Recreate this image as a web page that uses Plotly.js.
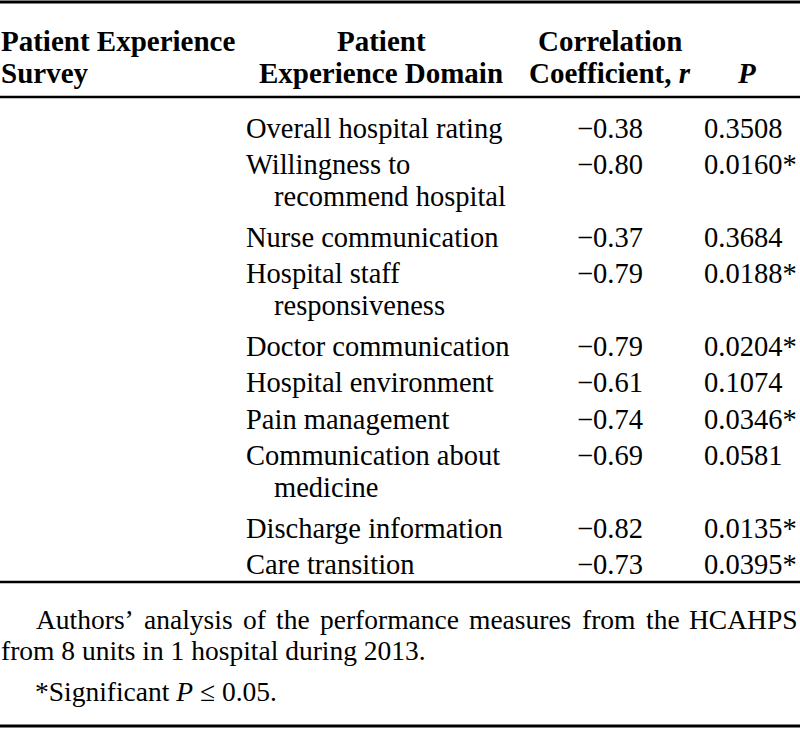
<!DOCTYPE html>
<html>
<head>
<meta charset="utf-8">
<script src="https://cdn.plot.ly/plotly-3.0.1.min.js"></script>
<style>html,body{margin:0;padding:0;background:#fff;}#chart{width:800px;height:729px;}</style>
</head>
<body>
<div id="chart"></div>
<script>
// ---- data ----
const headerLine1 = ["Patient Experience", "Patient", "Correlation", ""];
const headerLine2 = ["Survey", "Experience Domain", "Coefficient, <i>r</i>", "<i>P</i>"];
const domainLine1 = ["Overall hospital rating", "Willingness to", "Nurse communication", "Hospital staff",
  "Doctor communication", "Hospital environment", "Pain management", "Communication about",
  "Discharge information", "Care transition"];
const domainLine2 = ["", "recommend hospital", "", "responsiveness", "", "", "", "medicine", "", ""];
const rValues = [-0.38, -0.80, -0.37, -0.79, -0.79, -0.61, -0.74, -0.69, -0.82, -0.73];
const pValues = [0.3508, 0.0160, 0.3684, 0.0188, 0.0204, 0.1074, 0.0346, 0.0581, 0.0135, 0.0395];
const sigLevel = 0.05;
const noteText = ["Authors\u2019 analysis of the performance measures from the HCAHPS", "from 8 units in 1 hospital during 2013."];
const sigNote = "*Significant <i>P</i> \u2264 0.05.";

// ---- layout helpers ----
const W = 800, H = 729;
const FONT = "'Liberation Serif', 'Times New Roman', Times, serif";
const FS = 28.5, FS_HDR = 29, FS_NOTE = 27.5;
const ann = [];
function txt(x, y, t, anchor, size) {
  ann.push({x: x, y: y, xref: "x", yref: "y", text: t, showarrow: false,
    xanchor: anchor || "left", yanchor: "middle", borderpad: 0, borderwidth: 0,
    font: {family: FONT, size: size || FS, color: "#000"}});
}

// header
const hdrX = [1, 381, 610, 746];
const hdrAnchor = ["left", "center", "center", "center"];
const hdrY1 = 41, hdrY2 = 73;
headerLine1.forEach((t, i) => { if (t) txt(hdrX[i], hdrY1, "<b>" + t + "</b>", hdrAnchor[i], FS_HDR); });
headerLine2.forEach((t, i) => { if (t) txt(hdrX[i], hdrY2, "<b>" + t + "</b>", hdrAnchor[i], FS_HDR); });

// body rows
const rowStart = 128, rowPitch = 36.5, linePitch = 32, extraLine = 36;
let y = rowStart;
domainLine1.forEach((d, i) => {
  txt(246, y, d, "left");
  if (domainLine2[i]) txt(274, y + linePitch, domainLine2[i], "left");
  txt(610, y, "\u2212" + Math.abs(rValues[i]).toFixed(2), "center");
  txt(704, y, pValues[i].toFixed(4) + (pValues[i] <= sigLevel ? "*" : ""), "left");
  y += rowPitch + (domainLine2[i] ? extraLine : 0);
});

// footnotes
const ruleHead = 97, ruleFoot = 582, ruleBottom = 726;
const noteY1 = 619, noteY2 = 650, noteY3 = 691;
// justified first line: measure words on a canvas and spread them across the width
const cv = document.createElement("canvas").getContext("2d");
cv.font = FS_NOTE + "px 'Liberation Serif'";
const words = noteText[0].split(" ");
const x0 = 36, x1 = 798;
const widths = words.map(w => cv.measureText(w).width);
const totalW = widths.reduce((a, b) => a + b, 0);
const gap = Math.max(6, (x1 - x0 - totalW) / (words.length - 1));
let cx = x0;
words.forEach((w, i) => { txt(cx, noteY1, w, "left", FS_NOTE); cx += widths[i] + gap; });
txt(1, noteY2, noteText[1], "left", FS_NOTE);
txt(35, noteY3, sigNote, "left", FS_NOTE);

const shapes = [
  {type: "line", xref: "x", yref: "y", x0: 0, x1: W, y0: 2, y1: 2, line: {color: "#000", width: 3}},
  {type: "line", xref: "x", yref: "y", x0: 0, x1: W, y0: ruleHead, y1: ruleHead, line: {color: "#000", width: 2.5}},
  {type: "line", xref: "x", yref: "y", x0: 0, x1: W, y0: ruleFoot, y1: ruleFoot, line: {color: "#000", width: 2.5}},
  {type: "line", xref: "x", yref: "y", x0: 0, x1: W, y0: ruleBottom, y1: ruleBottom, line: {color: "#000", width: 3}}
];

Plotly.newPlot("chart", [{x: [], y: [], type: "scatter", mode: "markers", hoverinfo: "skip"}], {
  width: W, height: H,
  margin: {l: 0, r: 0, t: 0, b: 0, pad: 0},
  paper_bgcolor: "#fff", plot_bgcolor: "#fff",
  showlegend: false,
  xaxis: {range: [0, W], visible: false, fixedrange: true},
  yaxis: {range: [H, 0], visible: false, fixedrange: true},
  annotations: ann,
  shapes: shapes
}, {staticPlot: true, displayModeBar: false});
</script>
</body>
</html>
